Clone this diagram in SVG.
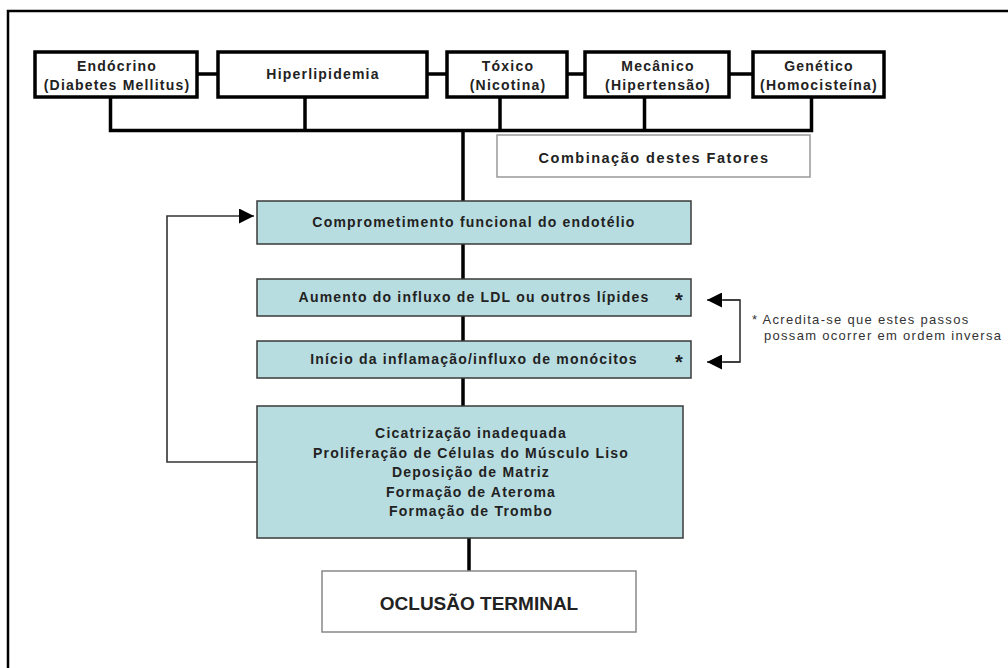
<svg xmlns="http://www.w3.org/2000/svg" width="1008" height="668" viewBox="0 0 1008 668">
<style>
.t{font-family:"Liberation Sans",Arial,sans-serif;font-weight:bold;font-size:14px;letter-spacing:1.2px;fill:#222;text-anchor:middle}
.top{fill:#fff;stroke:#000;stroke-width:3.5}
.blue{fill:#b8dde1;stroke:#3a3a3a;stroke-width:1.5}
.thick{stroke:#000;stroke-width:3.5;fill:none}
.thin{stroke:#333;stroke-width:1.6;fill:none}
.note{font-family:"Liberation Sans",Arial,sans-serif;font-size:13px;letter-spacing:1.3px;fill:#333}
.star{font-family:"Liberation Sans",Arial,sans-serif;font-weight:bold;font-size:20px;fill:#222;text-anchor:middle}
</style>
<defs>
<marker id="ah" viewBox="0 0 10 10" refX="10" refY="5" markerWidth="15" markerHeight="15" markerUnits="userSpaceOnUse" orient="auto">
<path d="M0,0 L10,5 L0,10 z" fill="#000"/>
</marker>
</defs>
<rect width="1008" height="668" fill="#fff"/>
<path d="M8,668 V11 H1008" fill="none" stroke="#000" stroke-width="2.5"/>

<g id="connectors">
<path class="thick" d="M197,74 H218 M427,74 H447 M567,74 H585 M729,74 H753"/>
<path class="thick" d="M110.5,97 V130.5 H811.5 V97 M305,97 V130.5 M500,97 V130.5 M644.5,97 V130.5"/>
<path class="thick" d="M463,130.5 V201"/>
<path class="thick" d="M463,244 V279 M463,316 V341 M463,378 V406 M469,538 V571"/>
<path class="thin" d="M257,462 H167 V216 H254" marker-end="url(#ah)"/>
<path class="thin" d="M723,300 H740 V362 H723" stroke-width="2"/>
<path class="thin" d="M740,300 H707" marker-end="url(#ah)" stroke-width="2"/>
<path class="thin" d="M740,362 H707" marker-end="url(#ah)" stroke-width="2"/>
</g>

<g id="endocrino">
<rect class="top" x="35" y="52" width="162" height="45"/>
<text class="t" x="117" y="71">Endócrino</text>
<text class="t" x="117" y="90">(Diabetes Mellitus)</text>
</g>
<g id="hiperlipidemia">
<rect class="top" x="218" y="52" width="209" height="45"/>
<text class="t" x="323" y="79">Hiperlipidemia</text>
</g>
<g id="toxico">
<rect class="top" x="447" y="52" width="120" height="45"/>
<text class="t" x="508" y="71">Tóxico</text>
<text class="t" x="508" y="90">(Nicotina)</text>
</g>
<g id="mecanico">
<rect class="top" x="585" y="52" width="144" height="45"/>
<text class="t" x="658" y="71">Mecânico</text>
<text class="t" x="658" y="90">(Hipertensão)</text>
</g>
<g id="genetico">
<rect class="top" x="753" y="52" width="131" height="45"/>
<text class="t" x="819" y="71">Genético</text>
<text class="t" x="819" y="90">(Homocisteína)</text>
</g>

<g id="combinacao">
<rect x="497" y="135" width="313" height="42" fill="#fff" stroke="#999" stroke-width="1.5"/>
<text class="t" x="654" y="163" style="font-size:14.5px;letter-spacing:1.5px">Combinação destes Fatores</text>
</g>

<g id="comprometimento">
<rect class="blue" x="257" y="201" width="434" height="43"/>
<text class="t" x="474" y="227">Comprometimento funcional do endotélio</text>
</g>
<g id="aumento">
<rect class="blue" x="257" y="279" width="434" height="37"/>
<text class="t" x="474" y="302">Aumento do influxo de LDL ou outros lípides</text>
<text class="star" x="679" y="307">*</text>
</g>
<g id="inicio">
<rect class="blue" x="257" y="341" width="434" height="37"/>
<text class="t" x="474" y="364">Início da inflamação/influxo de monócitos</text>
<text class="star" x="679" y="369">*</text>
</g>
<g id="cicatrizacao">
<rect class="blue" x="257" y="406" width="426" height="132"/>
<text class="t" x="471" y="438">Cicatrização inadequada</text>
<text class="t" x="471" y="457.5">Proliferação de Células do Músculo Liso</text>
<text class="t" x="471" y="477">Deposição de Matriz</text>
<text class="t" x="471" y="496.5">Formação de Ateroma</text>
<text class="t" x="471" y="516">Formação de Trombo</text>
</g>
<g id="oclusao">
<rect x="322" y="571" width="314" height="61" fill="#fff" stroke="#888" stroke-width="1.5"/>
<text class="t" x="479" y="610" style="font-size:19px;letter-spacing:0">OCLUSÃO TERMINAL</text>
</g>
<g id="nota">
<text class="note" x="752" y="324">* Acredita-se que estes passos</text>
<text class="note" x="764" y="340">possam ocorrer em ordem inversa</text>
</g>
</svg>
